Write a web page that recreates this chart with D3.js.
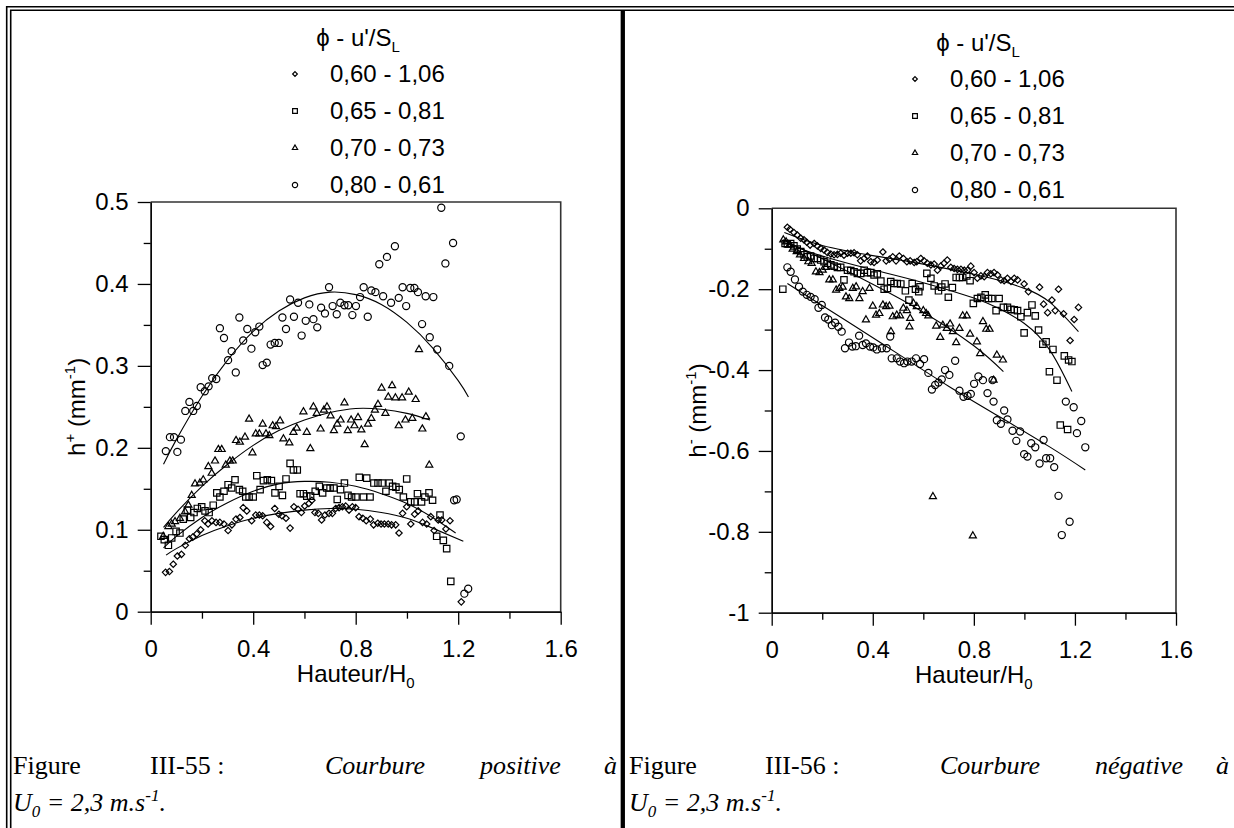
<!DOCTYPE html>
<html lang="fr">
<head>
<meta charset="UTF-8">
<title>Courbure positive / negative</title>
<script src="https://cdn.jsdelivr.net/npm/d3@7"></script>
<style>
  html, body { margin: 0; padding: 0; background: #fff; overflow: hidden; }
  svg { display: block; }
  text { font-family: "Liberation Sans", Arial, sans-serif; fill: #000; }
  .caption text { font-family: "Liberation Serif", "Times New Roman", serif; font-size: 26px; }
</style>
</head>
<body>
<svg id="page" width="1234" height="828"></svg>
<script>
// ---------- data ----------
const legendLabels = ['0,60 - 1,06', '0,65 - 0,81', '0,70 - 0,73', '0,80 - 0,61']
const legendSymbols = ['diamond', 'square', 'triangle', 'circle']

const xTicks = [0, 0.4, 0.8, 1.2, 1.6]
const xTickLabels = ['0', '0.4', '0.8', '1.2', '1.6']
const xMinorTicks = [0.2, 0.6, 1.0, 1.4]

const posYTicks = [0, 0.1, 0.2, 0.3, 0.4, 0.5]
const posYTickLabels = ['0', '0.1', '0.2', '0.3', '0.4', '0.5']
const posYMinorTicks = [0.05, 0.15, 0.25, 0.35, 0.45]

const negYTicks = [0, -0.2, -0.4, -0.6, -0.8, -1]
const negYTickLabels = ['0', '-0.2', '-0.4', '-0.6', '-0.8', '-1']
const negYMinorTicks = [-0.1, -0.3, -0.5, -0.7, -0.9]

// positive curvature h+ (Hauteur/H0, h+)
const posDiamonds = [[.058,.048],[.073,.049],[.088,.058],[.104,.068],[.120,.070],[.135,.081],[.151,.089],[.164,.091],[.180,.095],[.195,.100],[.211,.111],[.224,.107],[.239,.111],[.255,.109],[.270,.109],[.286,.107],[.302,.099],[.317,.106],[.333,.113],[.348,.115],[.361,.127],[.375,.123],[.394,.111],[.410,.118],[.424,.118],[.437,.117],[.453,.109],[.468,.104],[.484,.126],[.500,.119],[.512,.117],[.528,.114],[.544,.102],[.559,.128],[.575,.125],[.588,.121],[.601,.129],[.617,.132],[.629,.136],[.641,.121],[.654,.120],[.667,.112],[.680,.118],[.696,.120],[.709,.120],[.722,.126],[.735,.127],[.748,.128],[.761,.129],[.774,.124],[.787,.128],[.800,.127],[.813,.116],[.828,.114],[.841,.111],[.857,.113],[.870,.106],[.886,.108],[.899,.107],[.912,.107],[.927,.107],[.940,.106],[.956,.106],[.969,.096],[.983,.120],[.999,.128],[1.015,.107],[1.030,.119],[1.044,.123],[1.061,.109],[1.077,.107],[1.093,.116],[1.106,.099],[1.122,.112],[1.136,.112],[1.152,.101],[1.168,.111],[1.212,.012]]
const posSquares = [[.040,.092],[.053,.088],[.069,.081],[.082,.090],[.099,.098],[.114,.096],[.127,.113],[.143,.124],[.156,.115],[.169,.121],[.182,.126],[.199,.128],[.212,.123],[.228,.121],[.244,.130],[.258,.145],[.270,.140],[.286,.147],[.302,.155],[.316,.151],[.329,.161],[.346,.149],[.359,.147],[.371,.140],[.384,.140],[.400,.140],[.414,.166],[.427,.149],[.440,.160],[.455,.161],[.471,.160],[.485,.145],[.501,.153],[.514,.142],[.528,.162],[.544,.181],[.557,.173],[.572,.173],[.583,.144],[.596,.144],[.609,.141],[.624,.141],[.642,.147],[.658,.153],[.671,.145],[.687,.151],[.700,.151],[.715,.151],[.728,.137],[.741,.149],[.756,.157],[.770,.142],[.784,.140],[.801,.140],[.814,.164],[.830,.140],[.843,.163],[.856,.140],[.871,.157],[.887,.157],[.903,.157],[.918,.147],[.931,.157],[.944,.153],[.957,.152],[.970,.149],[.986,.140],[.999,.162],[1.015,.134],[1.030,.134],[1.041,.144],[1.057,.134],[1.070,.140],[1.086,.145],[1.100,.136],[1.129,.118],[1.116,.092],[1.142,.087],[1.155,.077],[1.171,.037]]
const posTriangles = [[.049,.092],[.069,.104],[.082,.107],[.095,.110],[.114,.114],[.134,.122],[.147,.130],[.160,.142],[.173,.156],[.192,.157],[.205,.161],[.225,.177],[.238,.169],[.251,.184],[.264,.198],[.277,.198],[.293,.179],[.309,.184],[.320,.184],[.333,.209],[.348,.207],[.368,.213],[.384,.235],[.397,.194],[.410,.217],[.424,.217],[.437,.229],[.450,.217],[.463,.215],[.476,.227],[.489,.226],[.505,.233],[.518,.211],[.541,.206],[.557,.219],[.570,.224],[.596,.244],[.609,.219],[.623,.199],[.635,.250],[.648,.242],[.663,.223],[.676,.246],[.688,.250],[.702,.239],[.715,.221],[.728,.229],[.741,.234],[.756,.255],[.769,.221],[.782,.234],[.795,.227],[.809,.237],[.822,.222],[.835,.204],[.848,.229],[.861,.236],[.875,.246],[.887,.253],[.901,.273],[.916,.242],[.927,.262],[.942,.276],[.955,.261],[.968,.227],[.981,.261],[.994,.234],[1.007,.268],[1.021,.236],[1.034,.259],[1.047,.320],[1.060,.223],[1.074,.238],[1.087,.179]]
const posCircles = [[.059,.196],[.075,.213],[.091,.213],[.104,.195],[.118,.210],[.135,.245],[.151,.256],[.166,.245],[.180,.251],[.195,.274],[.211,.269],[.226,.275],[.240,.285],[.256,.284],[.270,.346],[.286,.334],[.302,.307],[.316,.318],[.332,.292],[.346,.359],[.361,.331],[.377,.345],[.393,.321],[.408,.341],[.424,.348],[.437,.301],[.453,.304],[.468,.326],[.484,.328],[.500,.328],[.514,.359],[.528,.345],[.544,.381],[.559,.360],[.575,.377],[.589,.337],[.605,.355],[.619,.375],[.635,.357],[.650,.347],[.665,.371],[.680,.364],[.696,.396],[.710,.373],[.726,.363],[.740,.377],[.756,.374],[.771,.374],[.787,.362],[.801,.373],[.817,.384],[.831,.396],[.847,.360],[.861,.392],[.877,.390],[.892,.424],[.907,.385],[.922,.433],[.938,.377],[.953,.446],[.968,.383],[.983,.396],[.997,.373],[1.013,.395],[1.029,.395],[1.043,.390],[1.059,.351],[1.073,.385],[1.089,.335],[1.103,.384],[1.118,.320],[1.134,.493],[1.150,.425],[1.165,.300],[1.180,.450],[1.184,.136],[1.194,.137],[1.210,.214],[1.224,.022],[1.239,.028]]

const posDiamondsFit = [[.06,.069],[.1,.077],[.2,.093],[.3,.105],[.4,.114],[.5,.120],[.6,.124],[.7,.126],[.8,.125],[.9,.121],[1.0,.114],[1.1,.102],[1.22,.086]]
const posSquaresFit = [[.05,.078],[.1,.092],[.2,.115],[.3,.133],[.4,.147],[.5,.156],[.6,.159],[.7,.158],[.8,.153],[.9,.144],[1.0,.132],[1.1,.115],[1.19,.096]]
const posTrianglesFit = [[.05,.103],[.1,.121],[.2,.153],[.3,.180],[.4,.203],[.5,.221],[.6,.234],[.7,.243],[.8,.248],[.9,.247],[1.0,.242],[1.09,.234]]
const posCirclesFit = [[.05,.180],[.1,.210],[.2,.263],[.3,.307],[.4,.342],[.5,.367],[.6,.383],[.7,.390],[.8,.387],[.9,.375],[1.0,.353],[1.1,.322],[1.2,.282],[1.24,.262]]

// negative curvature h- (Hauteur/H0, h-)
const negDiamonds = [[.062,-.047],[.072,-.052],[.088,-.060],[.101,-.066],[.115,-.074],[.128,-.078],[.139,-.084],[.152,-.091],[.168,-.087],[.181,-.093],[.194,-.099],[.207,-.103],[.220,-.109],[.234,-.113],[.247,-.115],[.260,-.114],[.273,-.111],[.286,-.116],[.300,-.111],[.313,-.111],[.326,-.110],[.339,-.115],[.352,-.130],[.366,-.124],[.379,-.118],[.392,-.132],[.405,-.134],[.418,-.128],[.440,-.108],[.453,-.130],[.466,-.126],[.479,-.120],[.492,-.130],[.505,-.118],[.521,-.124],[.535,-.132],[.548,-.130],[.564,-.134],[.574,-.132],[.590,-.124],[.603,-.130],[.616,-.136],[.630,-.140],[.643,-.138],[.656,-.153],[.669,-.143],[.682,-.136],[.695,-.128],[.709,-.146],[.722,-.149],[.735,-.151],[.749,-.151],[.762,-.153],[.775,-.153],[.788,-.143],[.801,-.159],[.814,-.173],[.828,-.167],[.841,-.169],[.854,-.159],[.867,-.162],[.880,-.159],[.894,-.165],[.907,-.177],[.920,-.179],[.933,-.173],[.947,-.181],[.960,-.173],[.973,-.177],[.999,-.187],[1.016,-.206],[1.060,-.195],[1.076,-.237],[1.092,-.258],[1.109,-.227],[1.122,-.253],[1.135,-.200],[1.155,-.261],[1.181,-.327],[1.197,-.275],[1.214,-.245]]
const negSquares = [[.044,-.200],[.053,-.087],[.062,-.088],[.075,-.087],[.088,-.093],[.101,-.101],[.115,-.107],[.128,-.115],[.141,-.120],[.154,-.118],[.168,-.124],[.181,-.124],[.194,-.128],[.207,-.132],[.220,-.136],[.234,-.140],[.247,-.143],[.260,-.146],[.273,-.146],[.286,-.177],[.300,-.153],[.313,-.154],[.326,-.157],[.339,-.161],[.352,-.161],[.366,-.153],[.379,-.159],[.392,-.159],[.405,-.165],[.418,-.162],[.432,-.180],[.445,-.200],[.458,-.198],[.471,-.181],[.484,-.186],[.497,-.186],[.511,-.187],[.529,-.204],[.543,-.227],[.556,-.186],[.569,-.200],[.582,-.206],[.587,-.194],[.614,-.161],[.630,-.173],[.643,-.192],[.660,-.204],[.673,-.195],[.686,-.187],[.699,-.220],[.715,-.196],[.730,-.171],[.743,-.171],[.756,-.171],[.772,-.167],[.785,-.179],[.798,-.235],[.814,-.223],[.828,-.220],[.845,-.214],[.858,-.223],[.871,-.223],[.888,-.253],[.900,-.223],[.917,-.245],[.933,-.245],[.947,-.250],[.960,-.251],[.973,-.253],[.986,-.268],[.999,-.308],[1.012,-.258],[1.030,-.239],[1.043,-.266],[1.056,-.301],[1.073,-.336],[1.086,-.330],[1.099,-.404],[1.113,-.349],[1.129,-.425],[1.158,-.365],[1.175,-.375],[1.188,-.379],[1.142,-.536],[1.171,-.547]]
const negTriangles = [[.046,-.078],[.057,-.083],[.070,-.091],[.083,-.101],[.099,-.107],[.112,-.115],[.128,-.124],[.145,-.132],[.158,-.136],[.175,-.157],[.189,-.159],[.202,-.153],[.215,-.146],[.228,-.177],[.242,-.177],[.255,-.202],[.268,-.198],[.281,-.195],[.294,-.219],[.307,-.223],[.321,-.198],[.334,-.194],[.347,-.223],[.360,-.206],[.373,-.276],[.387,-.198],[.400,-.242],[.413,-.264],[.426,-.260],[.440,-.239],[.453,-.243],[.466,-.242],[.472,-.305],[.479,-.268],[.495,-.264],[.508,-.266],[.521,-.247],[.535,-.253],[.545,-.293],[.548,-.272],[.561,-.235],[.574,-.243],[.600,-.253],[.611,-.260],[.620,-.266],[.638,-.713],[.651,-.291],[.667,-.319],[.677,-.289],[.693,-.297],[.706,-.286],[.717,-.305],[.730,-.332],[.743,-.297],[.756,-.266],[.772,-.266],[.785,-.311],[.796,-.810],[.812,-.330],[.825,-.359],[.836,-.280],[.849,-.299],[.862,-.299],[.878,-.425],[.891,-.363],[.915,-.375]]
const negCircles = [[.062,-.146],[.075,-.157],[.092,-.176],[.108,-.194],[.123,-.206],[.139,-.214],[.154,-.219],[.170,-.225],[.185,-.246],[.198,-.239],[.211,-.270],[.224,-.275],[.238,-.289],[.251,-.283],[.264,-.293],[.277,-.305],[.290,-.346],[.306,-.332],[.319,-.342],[.333,-.341],[.346,-.315],[.360,-.338],[.373,-.334],[.389,-.342],[.402,-.344],[.416,-.349],[.436,-.346],[.455,-.346],[.469,-.317],[.475,-.371],[.495,-.371],[.508,-.379],[.524,-.383],[.537,-.379],[.554,-.379],[.571,-.371],[.587,-.385],[.603,-.373],[.620,-.407],[.634,-.448],[.647,-.437],[.660,-.431],[.673,-.423],[.686,-.400],[.703,-.412],[.726,-.377],[.743,-.451],[.759,-.466],[.775,-.464],[.788,-.459],[.801,-.434],[.818,-.416],[.836,-.425],[.854,-.457],[.874,-.425],[.878,-.478],[.891,-.524],[.907,-.533],[.920,-.500],[.933,-.522],[.953,-.550],[.968,-.575],[.983,-.552],[.999,-.608],[1.012,-.614],[1.027,-.581],[1.043,-.591],[1.060,-.631],[1.076,-.573],[1.086,-.618],[1.102,-.618],[1.118,-.640],[1.135,-.711],[1.148,-.808],[1.164,-.478],[1.179,-.775],[1.195,-.492],[1.208,-.556],[1.225,-.526],[1.241,-.591]]

const negDiamondsFit = [[.05,-.060],[.2,-.092],[.4,-.117],[.6,-.138],[.8,-.163],[.9,-.178],[1.0,-.198],[1.1,-.232],[1.214,-.305]]
const negSquaresFit = [[.05,-.085],[.2,-.118],[.4,-.152],[.6,-.184],[.8,-.222],[.9,-.248],[1.0,-.285],[1.1,-.350],[1.188,-.453]]
const negTrianglesFit = [[.046,-.078],[.2,-.125],[.4,-.188],[.6,-.257],[.8,-.340],[.917,-.404]]
const negCirclesFit = [[.062,-.186],[.3,-.280],[.5,-.360],[.7,-.440],[.9,-.515],[1.1,-.590],[1.241,-.647]]

// caption words
const captionLeftWords = ['Figure', 'III-55\u00A0:', 'Courbure', 'positive', '\u00E0']
const captionRightWords = ['Figure', 'III-56\u00A0:', 'Courbure', 'n\u00E9gative', '\u00E0']
const captionItalic = [false, false, true, true, true]

// ---------- drawing ----------
const W = 1234, H = 828
const FONT = 24
const svg = d3.select('#page')

const symbolOf = {
   diamond: d3.symbolDiamond2,
   square: d3.symbolSquare2,
   triangle: d3.symbolTriangle2,
   circle: d3.symbolCircle
}
const sizeOf = { diamond: 26, square: 52, triangle: 36, circle: 40 }

// table borders (double outer line, thick middle rule)
const borders = svg.append('g').attr('stroke', '#000').attr('fill', 'none')
borders.append('path').attr('d', `M6.7,${H}V6.8H${W}`).attr('stroke-width', 1.6)
borders.append('path').attr('d', `M10.7,${H}V10.3H${W}`).attr('stroke-width', 1.6)
borders.append('line')
   .attr('x1', 622.8).attr('x2', 622.8)
   .attr('y1', 10).attr('y2', H)
   .attr('stroke-width', 4.3)

function drawPanel(p) {
   const x = d3.scaleLinear().domain([0, 1.6]).range([p.left, p.right])
   const y = d3.scaleLinear().domain(p.yDomain).range([p.bottom, p.top])
   const g = svg.append('g')

   // frame top/right
   g.append('path')
      .attr('d', `M${p.left},${p.top}H${p.right}V${p.bottom}`)
      .attr('fill', 'none').attr('stroke', '#333').attr('stroke-width', 1.6)

   // minor ticks
   g.append('g')
      .attr('transform', `translate(0,${p.bottom})`)
      .call(d3.axisBottom(x).tickValues(xMinorTicks).tickSize(7).tickSizeOuter(0).tickFormat(() => ''))
   g.append('g')
      .attr('transform', `translate(${p.left},0)`)
      .call(d3.axisLeft(y).tickValues(p.yMinor).tickSize(7).tickSizeOuter(0).tickFormat(() => ''))

   // major ticks + labels
   g.append('g')
      .attr('transform', `translate(0,${p.bottom})`)
      .call(d3.axisBottom(x).tickValues(xTicks).tickSize(13).tickSizeOuter(0).tickPadding(15)
         .tickFormat((d, i) => xTickLabels[i]))
   g.append('g')
      .attr('transform', `translate(${p.left},0)`)
      .call(d3.axisLeft(y).tickValues(p.yTicks).tickSize(13).tickSizeOuter(0).tickPadding(9)
         .tickFormat((d, i) => p.yLabels[i]))

   g.selectAll('.domain, .tick line').attr('stroke', '#000').attr('stroke-width', 1.3)
   g.selectAll('.tick text')
      .attr('font-family', '"Liberation Sans", Arial, sans-serif')
      .attr('font-size', FONT)
      .attr('fill', '#000')

   // fitted curves
   const line = d3.line()
      .x(d => x(d[0]))
      .y(d => y(d[1]))
      .curve(d3.curveNatural)

   p.fits.forEach(f => {
      g.append('path')
         .datum(f)
         .attr('d', line)
         .attr('fill', 'none')
         .attr('stroke', '#000')
         .attr('stroke-width', 1.1)
   })

   // points
   p.series.forEach((s, i) => {
      const type = legendSymbols[i]
      g.append('g')
         .selectAll('path')
         .data(s)
         .enter()
         .append('path')
         .attr('transform', d => `translate(${x(d[0])},${y(d[1])})`)
         .attr('d', d3.symbol(symbolOf[type], sizeOf[type]))
         .attr('fill', 'none')
         .attr('stroke', '#000')
         .attr('stroke-width', 1.2)
   })

   // axis titles
   const xl = g.append('text')
      .attr('x', (p.left + p.right) / 2)
      .attr('y', p.bottom + 70)
      .attr('text-anchor', 'middle')
      .attr('font-size', FONT)
   xl.append('tspan').text('Hauteur/H')
   xl.append('tspan').attr('font-size', 15).attr('dy', 6).text('0')

   const yl = g.append('text')
      .attr('transform', `translate(${p.left - 66},${(p.top + p.bottom) / 2}) rotate(-90)`)
      .attr('text-anchor', 'middle')
      .attr('font-size', FONT)
   yl.append('tspan').text('h')
   yl.append('tspan').attr('font-size', 15).attr('dy', -10).text(p.sign)
   yl.append('tspan').attr('dy', 10).text(' (mm')
   yl.append('tspan').attr('font-size', 15).attr('dy', -10).text('-1')
   yl.append('tspan').attr('dy', 10).text(')')

   // legend
   const lg = g.append('g')
   const title = lg.append('text')
      .attr('x', p.legendX + 28)
      .attr('y', p.legendY - 36)
      .attr('text-anchor', 'middle')
      .attr('font-size', FONT)
   title.append('tspan').text('\u03D5 - u\'/S')
   title.append('tspan').attr('font-size', 15).attr('dy', 6).text('L')

   legendLabels.forEach((label, i) => {
      const ly = p.legendY + i * 37
      const type = legendSymbols[i]
      lg.append('path')
         .attr('transform', `translate(${p.legendX - 35},${ly - 8})`)
         .attr('d', d3.symbol(symbolOf[type], sizeOf[type] * 0.55))
         .attr('fill', 'none')
         .attr('stroke', '#000')
         .attr('stroke-width', 1.2)
      lg.append('text')
         .attr('x', p.legendX)
         .attr('y', ly)
         .attr('font-size', FONT)
         .text(label)
   })
}

drawPanel({
   left: 150.7, right: 560.7, top: 202, bottom: 611.7,
   yDomain: [0, 0.5],
   yTicks: posYTicks, yLabels: posYTickLabels, yMinor: posYMinorTicks,
   sign: '+',
   series: [posDiamonds, posSquares, posTriangles, posCircles],
   fits: [posDiamondsFit, posSquaresFit, posTrianglesFit, posCirclesFit],
   legendX: 330, legendY: 82
})

drawPanel({
   left: 771.7, right: 1176, top: 208.3, bottom: 612.7,
   yDomain: [-1, 0],
   yTicks: negYTicks, yLabels: negYTickLabels, yMinor: negYMinorTicks,
   sign: '-',
   series: [negDiamonds, negSquares, negTriangles, negCircles],
   fits: [negDiamondsFit, negSquaresFit, negTrianglesFit, negCirclesFit],
   legendX: 950, legendY: 87
})

// ---------- captions ----------
const captions = svg.append('g').attr('class', 'caption')

// word starts follow the justified layout of the source document
function captionLine(words, starts, y) {
   words.forEach((w, i) => {
      captions.append('text')
         .attr('x', starts[i])
         .attr('y', y)
         .attr('font-style', captionItalic[i] ? 'italic' : null)
         .text(w)
   })
}

function unitLine(x, y) {
   const t = captions.append('text').attr('x', x).attr('y', y).attr('font-style', 'italic')
   t.append('tspan').text('U')
   t.append('tspan').attr('font-size', 17).attr('dy', 6).text('0')
   t.append('tspan').attr('dy', -6).text(' = 2,3 m.s')
   t.append('tspan').attr('font-size', 17).attr('dy', -10).text('-1')
   t.append('tspan').attr('dy', 10).text('.')
}

captionLine(captionLeftWords, [13, 150, 325, 480, 604], 774)
unitLine(13, 811)

captionLine(captionRightWords, [629, 765, 940, 1095, 1216], 774)
unitLine(629, 811)
</script>
</body>
</html>
